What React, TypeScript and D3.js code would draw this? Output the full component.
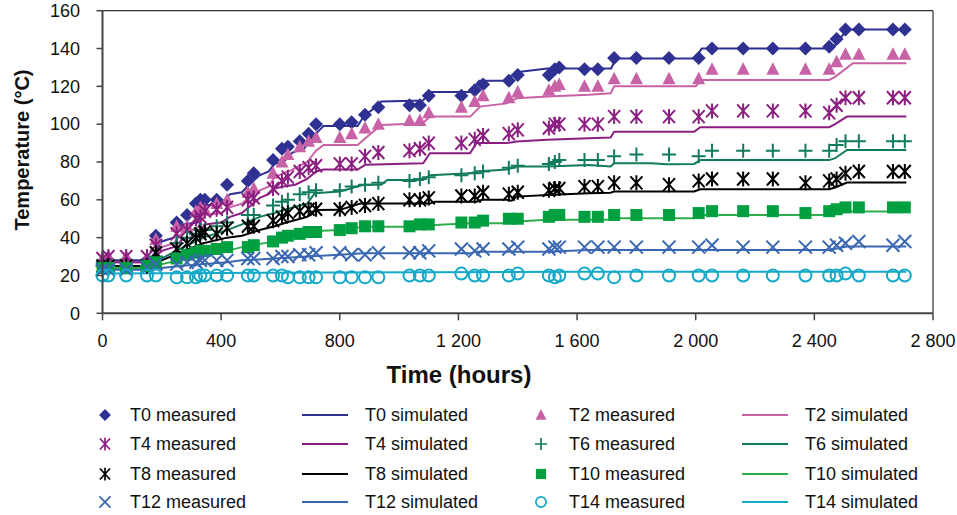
import React from "react";
import * as d3 from "d3";

const W = 957, H = 515;
const FONT = "'Liberation Sans', Arial, Helvetica, sans-serif";

const measTimes = [0, 20, 80, 150, 180, 250, 285, 315, 330, 345, 385, 420, 490, 510, 575, 605, 625, 665, 695, 720, 800, 840, 885, 930, 1035, 1070, 1100, 1210, 1255, 1283, 1370, 1400, 1505, 1525, 1540, 1625, 1670, 1725, 1800, 1910, 2010, 2055, 2160, 2260, 2370, 2450, 2475, 2505, 2550, 2665, 2705];

const measT0 = [27, 28, 28, 28, 41, 48, 52, 58, 60, 60, 60, 68, 70, 74, 81, 87, 88, 91, 95, 100, 100, 101, 105, 109, 110, 110, 115, 115, 118, 121, 123, 126, 126, 129, 130, 129, 129, 135, 135, 135, 135, 140, 140, 140, 140, 141, 145, 150, 150, 150, 150];
const measT2 = [29, 30, 30, 29, 39, 46, 46, 54, 56, 55, 58, 60, 64, 66, 74, 80, 84, 88, 91, 93, 93, 95, 98, 100, 102, 102, 106, 109, 112, 115, 114, 117, 118, 120, 121, 120, 120, 124, 124, 124, 124, 129, 129, 129, 129, 129, 133, 137, 137, 137, 137];
const measT4 = [29, 30, 30, 30, 36, 42, 44, 50, 51, 54, 55, 56, 60, 61, 66, 70, 72, 75, 77, 78, 79, 79, 83, 85, 86, 87, 90, 90, 92, 94, 95, 97, 98, 100, 100, 100, 100, 104, 104, 104, 104, 107, 107, 107, 107, 106, 110, 114, 114, 114, 114];
const measT6 = [25, 25, 25, 25, 30, 37, 40, 42, 44, 44, 46, 48, 52, 52, 57, 59, 60, 63, 64, 65, 65, 67, 68, 69, 70, 71, 72, 73, 74, 75, 77, 78, 79, 80, 81, 81, 81, 83, 84, 84, 83, 86, 86, 86, 86, 86, 89, 91, 91, 91, 91];
const measT8 = [25, 25, 25, 25, 32, 34, 37, 40, 42, 43, 42, 45, 46, 46, 49, 51, 53, 54, 55, 55, 55, 56, 57, 58, 60, 60, 61, 62, 62, 64, 63, 64, 65, 66, 66, 67, 67, 69, 69, 68, 70, 71, 71, 71, 69, 70, 71, 74, 75, 75, 75];
const measT10 = [24, 24, 24, 25, 27, 29, 31, 32, 33, 33, 34, 35, 35, 36, 38, 40, 41, 42, 43, 43, 44, 45, 46, 46, 46, 47, 47, 48, 48, 49, 50, 50, 51, 52, 52, 51, 51, 52, 52, 52, 53, 54, 54, 54, 53, 54, 55, 56, 56, 56, 56];
const measT12 = [23, 23, 23, 24, 26, 26, 27, 27, 28, 28, 28, 28, 29, 29, 29, 30, 30, 31, 31, 32, 32, 31, 31, 32, 32, 32, 33, 34, 33, 34, 34, 35, 34, 35, 35, 35, 35, 35, 35, 35, 35, 36, 35, 35, 35, 35, 36, 37, 38, 36, 38];
const measT14 = [20, 20, 20, 20, 20, 19, 19, 19, 20, 20, 20, 20, 20, 20, 20, 20, 19, 19, 19, 19, 19, 19, 19, 19, 20, 20, 20, 21, 20, 20, 20, 21, 20, 19, 20, 21, 21, 19, 20, 20, 20, 20, 20, 20, 20, 20, 20, 21, 20, 20, 20];

const simT0Times = [0, 160, 200, 240, 270, 320, 345, 400, 430, 470, 500, 530, 560, 580, 610, 640, 680, 700, 720, 745, 860, 880, 920, 940, 1080, 1105, 1240, 1270, 1360, 1395, 1500, 1715, 1730, 2000, 2020, 2450, 2470, 2510, 2710];
const simT0Values = [28, 28, 38, 40, 47, 48, 57, 58, 63, 64, 69, 73, 75, 79, 80, 85, 87, 92, 95, 99, 99, 104, 109, 112, 112.5, 117, 117, 123, 123, 127.5, 129.5, 129.5, 134.7, 134.7, 140, 140, 142, 150, 150];
const simT2Times = [0, 160, 200, 240, 270, 320, 345, 400, 430, 470, 500, 530, 560, 580, 610, 640, 690, 720, 745, 860, 886, 940, 1080, 1104, 1240, 1273, 1363, 1396, 1500, 1640, 1713, 1725, 2000, 2020, 2450, 2470, 2530, 2710];
const simT2Values = [27, 27, 35, 37, 43, 45, 52, 53, 56, 58, 62, 65, 67, 72, 74, 76, 80, 86, 89, 89, 92.6, 99.6, 100.5, 104, 104, 109.3, 111, 113.7, 114.6, 115.5, 116.3, 120, 120, 123.4, 123.4, 125, 132.2, 132.2];
const simT4Times = [0, 160, 200, 240, 270, 320, 345, 400, 430, 470, 500, 530, 560, 580, 610, 650, 690, 720, 745, 860, 886, 1081, 1104, 1239, 1261, 1363, 1396, 1500, 1640, 1713, 1725, 1995, 2015, 2450, 2470, 2510, 2710];
const simT4Values = [27, 27, 33, 35, 39, 41, 47, 48, 51, 53, 57, 61, 63, 66, 67, 68, 71, 75, 76, 76, 78.5, 79.3, 84.6, 84.6, 90, 90, 90.8, 91.7, 92.6, 93, 96, 96, 98.4, 98.4, 100, 104, 104];
const simT6Times = [0, 160, 200, 260, 340, 420, 470, 530, 580, 620, 690, 716, 800, 880, 940, 960, 1081, 1104, 1239, 1261, 1363, 1396, 1500, 1640, 1713, 1725, 1850, 1900, 1995, 2015, 2450, 2470, 2510, 2710];
const simT6Values = [25, 25, 29, 34, 40, 44, 47, 51, 53, 55, 58, 63.5, 64.4, 68, 68, 70.5, 70.5, 73, 74, 75, 76, 77.6, 77.6, 78.4, 77.6, 79.3, 79.3, 78.8, 79, 81, 81, 82, 86.4, 86.4];
const simT8Times = [0, 160, 200, 260, 340, 420, 470, 530, 580, 620, 690, 716, 800, 870, 1104, 1120, 1261, 1280, 1363, 1380, 1396, 1500, 1640, 1713, 1725, 1995, 2015, 2450, 2470, 2510, 2710];
const simT8Values = [25, 25, 28, 32, 37, 40, 41, 44, 46, 48, 51, 54.6, 54.7, 58, 58, 59, 59, 60, 60, 59.5, 61.7, 62.6, 63.5, 63.8, 64.4, 64.4, 65.6, 65.6, 66.5, 69.1, 69.1];
const simT10Times = [0, 160, 200, 260, 340, 420, 470, 575, 683, 800, 880, 1081, 1104, 1239, 1363, 1396, 1500, 1713, 1725, 1995, 2015, 2450, 2510, 2710];
const simT10Values = [24, 24, 26, 28, 31, 33, 35, 37.9, 43.2, 44, 45.8, 45.8, 46.5, 47.6, 47.6, 48.5, 49.4, 49.4, 50.2, 50.2, 52, 52, 53.8, 53.8];
const simT12Times = [0, 160, 200, 260, 340, 420, 470, 580, 690, 800, 880, 1239, 1261, 1500, 1640, 2450, 2510, 2710];
const simT12Values = [23, 23, 24, 25, 26, 27, 28, 29, 30, 30.9, 31.7, 31.7, 32.6, 32.6, 33.5, 33.5, 35.3, 35.3];
const simT14Times = [0, 400, 800, 1600, 2710];
const simT14Values = [21, 21.3, 21.6, 22, 22];

const xTicks = [0, 400, 800, 1200, 1600, 2000, 2400, 2800];
const xTickLabels = ["0", "400", "800", "1 200", "1 600", "2 000", "2 400", "2 800"];
const yTicks = [0, 20, 40, 60, 80, 100, 120, 140, 160];

type Series = { name: string; color: string; marker: string; meas: number[]; simT: number[]; simV: number[] };
const series: Series[] = [
  { name: "T0", color: "#2e3192", marker: "diamond", meas: measT0, simT: simT0Times, simV: simT0Values },
  { name: "T2", color: "#c862a6", marker: "triangle", meas: measT2, simT: simT2Times, simV: simT2Values },
  { name: "T4", color: "#8b1f80", marker: "asterisk", meas: measT4, simT: simT4Times, simV: simT4Values },
  { name: "T6", color: "#127b5d", marker: "plus", meas: measT6, simT: simT6Times, simV: simT6Values },
  { name: "T8", color: "#000000", marker: "asterisk", meas: measT8, simT: simT8Times, simV: simT8Values },
  { name: "T10", color: "#00a040", marker: "square", meas: measT10, simT: simT10Times, simV: simT10Values },
  { name: "T12", color: "#3a67b1", marker: "x", meas: measT12, simT: simT12Times, simV: simT12Values },
  { name: "T14", color: "#14a9c8", marker: "circle", meas: measT14, simT: simT14Times, simV: simT14Values },
];
const simColors: Record<string, string> = { T10: "#2fae4e" };

function Marker({ type, color, x, y, s = 1 }: { type: string; color: string; x: number; y: number; s?: number }) {
  const t = `translate(${x},${y}) scale(${s})`;
  if (type === "diamond") return <path transform={t} d="M0,-7L7,0L0,7L-7,0Z" fill={color} />;
  if (type === "triangle") return <path transform={t} d="M0,-7L6.5,5.5L-6.5,5.5Z" fill={color} />;
  if (type === "square") return <path transform={t} d="M-6,-6H6V6H-6Z" fill={color} />;
  if (type === "circle") return <circle transform={t} r={6} fill="none" stroke={color} strokeWidth={2} />;
  if (type === "plus") return <path transform={t} d="M-7,0H7M0,-7V7" stroke={color} strokeWidth={2} fill="none" />;
  if (type === "x") return <path transform={t} d="M-6.5,-6.5L6.5,6.5M-6.5,6.5L6.5,-6.5" stroke={color} strokeWidth={2} fill="none" />;
  return <path transform={t} d="M-6,-6.5L6,6.5M-6,6.5L6,-6.5M0,-7.5V7.5" stroke={color} strokeWidth={2} fill="none" />;
}

export default function App() {
  const x = d3.scaleLinear().domain([0, 2800]).range([102.5, 933]);
  const y = d3.scaleLinear().domain([0, 160]).range([313.3, 10.7]);
  const line = d3.line<[number, number]>().x((d) => x(d[0])).y((d) => y(d[1]));
  const x0 = x(0), x1 = x(2800), yb = y(0), yt = y(160);

  const legendRows = [415, 444, 474, 502];
  return (
    <svg width={W} height={H} style={{ position: "absolute", left: 0, top: 0, background: "#fff" }} fontFamily={FONT}>
      <rect width={W} height={H} fill="#fff" />
      <line x1={x0} x2={x1} y1={yt} y2={yt} stroke="#333" strokeWidth={1.2} />
      <line x1={x1} x2={x1} y1={yt} y2={yb} stroke="#333" strokeWidth={1.2} />
      {series.map((s) => (
        <path key={"l" + s.name} d={line(s.simT.map((t, i) => [t, s.simV[i]] as [number, number])) || ""} fill="none" stroke={simColors[s.name] || s.color} strokeWidth={2} />
      ))}
      {series.map((s) => (
        <g key={"m" + s.name}>
          {measTimes.map((t, i) => (
            <Marker key={i} type={s.marker} color={s.color} x={x(t)} y={y(s.meas[i])} />
          ))}
        </g>
      ))}
      <line x1={x0} x2={x0} y1={yt} y2={yb} stroke="#444" strokeWidth={2} />
      <line x1={x0} x2={x1} y1={yb} y2={yb} stroke="#444" strokeWidth={2} />
      {yTicks.map((v) => (
        <g key={"y" + v}>
          <line x1={x0 - 6} x2={x0} y1={y(v)} y2={y(v)} stroke="#444" strokeWidth={1.5} />
          <text x={80} y={y(v)} dy="0.35em" textAnchor="end" fontSize={18} fill="#111">{v}</text>
        </g>
      ))}
      {xTicks.map((v, i) => (
        <g key={"x" + v}>
          <line x1={x(v)} x2={x(v)} y1={yb} y2={yb + 7} stroke="#444" strokeWidth={1.5} />
          <text x={x(v)} y={341} dy="0.35em" textAnchor="middle" fontSize={18} fill="#111">{xTickLabels[i]}</text>
        </g>
      ))}
      <text x={459} y={375} dy="0.35em" textAnchor="middle" fontSize={24} fontWeight="bold" fill="#111">Time (hours)</text>
      <text transform={`translate(22,150) rotate(-90)`} dy="0.35em" textAnchor="middle" fontSize={20} fontWeight="bold" fill="#111">Temperature (°C)</text>
      {series.map((s, i) => {
        const row = Math.floor(i / 2);
        const col = i % 2;
        const yy = legendRows[row];
        const mx = col === 0 ? 105 : 541;
        const tx = col === 0 ? 130 : 569;
        const lx = col === 0 ? 302 : 742;
        const ltx = col === 0 ? 365 : 805;
        return (
          <g key={"lg" + s.name}>
            <Marker type={s.marker} color={s.color} x={mx} y={yy} s={0.85} />
            <text x={tx} y={yy} dy="0.35em" fontSize={18} fill="#111">{s.name} measured</text>
            <line x1={lx} x2={lx + 46} y1={yy} y2={yy} stroke={simColors[s.name] || s.color} strokeWidth={2} />
            <text x={ltx} y={yy} dy="0.35em" fontSize={18} fill="#111">{s.name} simulated</text>
          </g>
        );
      })}
    </svg>
  );
}
